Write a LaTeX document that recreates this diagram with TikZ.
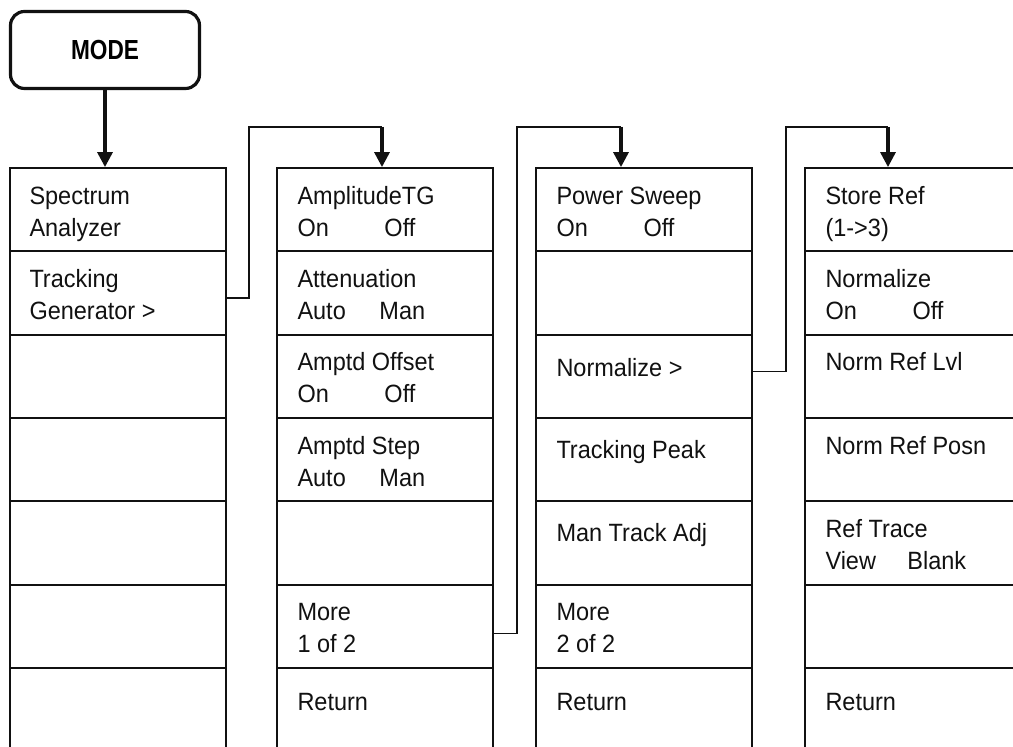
\documentclass[tikz,border=0pt]{standalone}
\usepackage{fontspec}
\setmainfont{Liberation Sans}[FakeStretch=0.94]
\newfontfamily\modefont{Liberation Sans}[FakeStretch=0.82]
\usetikzlibrary{arrows.meta,calc}
\definecolor{ink}{HTML}{111111}
\newcommand{\pair}[3]{\makebox[#1][l]{#2}#3}
\tikzset{
  cell/.style={draw=ink,line width=0.9pt,minimum width=108pt,minimum height=41.67pt,inner sep=0pt},
  lbl/.style={ink,anchor=base west,align=left,inner sep=0pt,font=\fontsize{12.5}{16}\selectfont},
  modebox/.style={draw=ink,line width=1.6pt,rounded corners=7pt,minimum width=94.5pt,minimum height=38.5pt,
    font=\modefont\bfseries\fontsize{13.8}{16}\selectfont},
  link/.style={ink,line width=0.75pt},
  arr/.style={-{Triangle[length=7.5pt,width=7.5pt]},ink,line width=1.6pt},
}

\begin{document}
\begin{tikzpicture}[x=0.5pt,y=-0.5pt]
  \clip (0,0) rectangle (1013,747);
  \node[modebox] (mode) at (105,50) {MODE};
  \foreach \c/\x in {1/118,2/385,3/644,4/913}
    \foreach \r in {1,...,7}
      \node[cell] (c\c-\r) at (\x,{168+83.33*(\r-0.5)}) {};
  \node[lbl] (t1-1) at ([xshift=10pt,yshift=-34.5pt]c1-1.north west) {Spectrum\\Analyzer};
  \node[lbl] (t1-2) at ([xshift=10pt,yshift=-34.5pt]c1-2.north west) {Tracking\\Generator >};
  \node[lbl] (t2-1) at ([xshift=10.5pt,yshift=-34.5pt]c2-1.north west) {AmplitudeTG\\\pair{43.5pt}{On}{Off}};
  \node[lbl] (t2-2) at ([xshift=10.5pt,yshift=-34.5pt]c2-2.north west) {Attenuation\\\pair{41pt}{Auto}{Man}};
  \node[lbl] (t2-3) at ([xshift=10.5pt,yshift=-34.5pt]c2-3.north west) {Amptd Offset\\\pair{43.5pt}{On}{Off}};
  \node[lbl] (t2-4) at ([xshift=10.5pt,yshift=-34.5pt]c2-4.north west) {Amptd Step\\\pair{41pt}{Auto}{Man}};
  \node[lbl] (t2-6) at ([xshift=10.5pt,yshift=-34.5pt]c2-6.north west) {More\\1 of 2};
  \node[lbl] (t2-7) at ([xshift=10.5pt,yshift=-21.5pt]c2-7.north west) {Return};
  \node[lbl] (t3-1) at ([xshift=10.5pt,yshift=-34.5pt]c3-1.north west) {Power Sweep\\\pair{43.5pt}{On}{Off}};
  \node[lbl] (t3-3) at ([xshift=10.5pt,yshift=-21.5pt]c3-3.north west) {Normalize >};
  \node[lbl] (t3-4) at ([xshift=10.5pt,yshift=-20.5pt]c3-4.north west) {Tracking Peak};
  \node[lbl] (t3-5) at ([xshift=10.5pt,yshift=-20.5pt]c3-5.north west) {Man Track Adj};
  \node[lbl] (t3-6) at ([xshift=10.5pt,yshift=-34.5pt]c3-6.north west) {More\\2 of 2};
  \node[lbl] (t3-7) at ([xshift=10.5pt,yshift=-21.5pt]c3-7.north west) {Return};
  \node[lbl] (t4-1) at ([xshift=10.5pt,yshift=-34.5pt]c4-1.north west) {Store Ref\\(1->3)};
  \node[lbl] (t4-2) at ([xshift=10.5pt,yshift=-34.5pt]c4-2.north west) {Normalize\\\pair{43.5pt}{On}{Off}};
  \node[lbl] (t4-3) at ([xshift=10.5pt,yshift=-18.5pt]c4-3.north west) {Norm Ref Lvl};
  \node[lbl] (t4-4) at ([xshift=10.5pt,yshift=-18.5pt]c4-4.north west) {Norm Ref Posn};
  \node[lbl] (t4-5) at ([xshift=10.5pt,yshift=-34.5pt]c4-5.north west) {Ref Trace\\\pair{41pt}{View}{Blank}};
  \node[lbl] (t4-7) at ([xshift=10.5pt,yshift=-21.5pt]c4-7.north west) {Return};
  \coordinate (k1) at (249,127);
  \coordinate (a2) at (382,127);
  \coordinate (k2) at (517,127);
  \coordinate (a3) at (621,127);
  \coordinate (k3) at (786,127);
  \coordinate (a4) at (888,127);
  \draw[arr] (mode.south) -- (mode.south |- c1-1.north);
  \draw[link] ([yshift=-2.5pt]c1-2.east) -| (k1) -- (a2);
  \draw[arr] (a2) -- (a2 |- c2-1.north);
  \draw[link] ([yshift=-3.5pt]c2-6.east) -| (k2) -- (a3);
  \draw[arr] (a3) -- (a3 |- c3-1.north);
  \draw[link] ([yshift=2.5pt]c3-3.east) -| (k3) -- (a4);
  \draw[arr] (a4) -- (a4 |- c4-1.north);
\end{tikzpicture}
\end{document}
